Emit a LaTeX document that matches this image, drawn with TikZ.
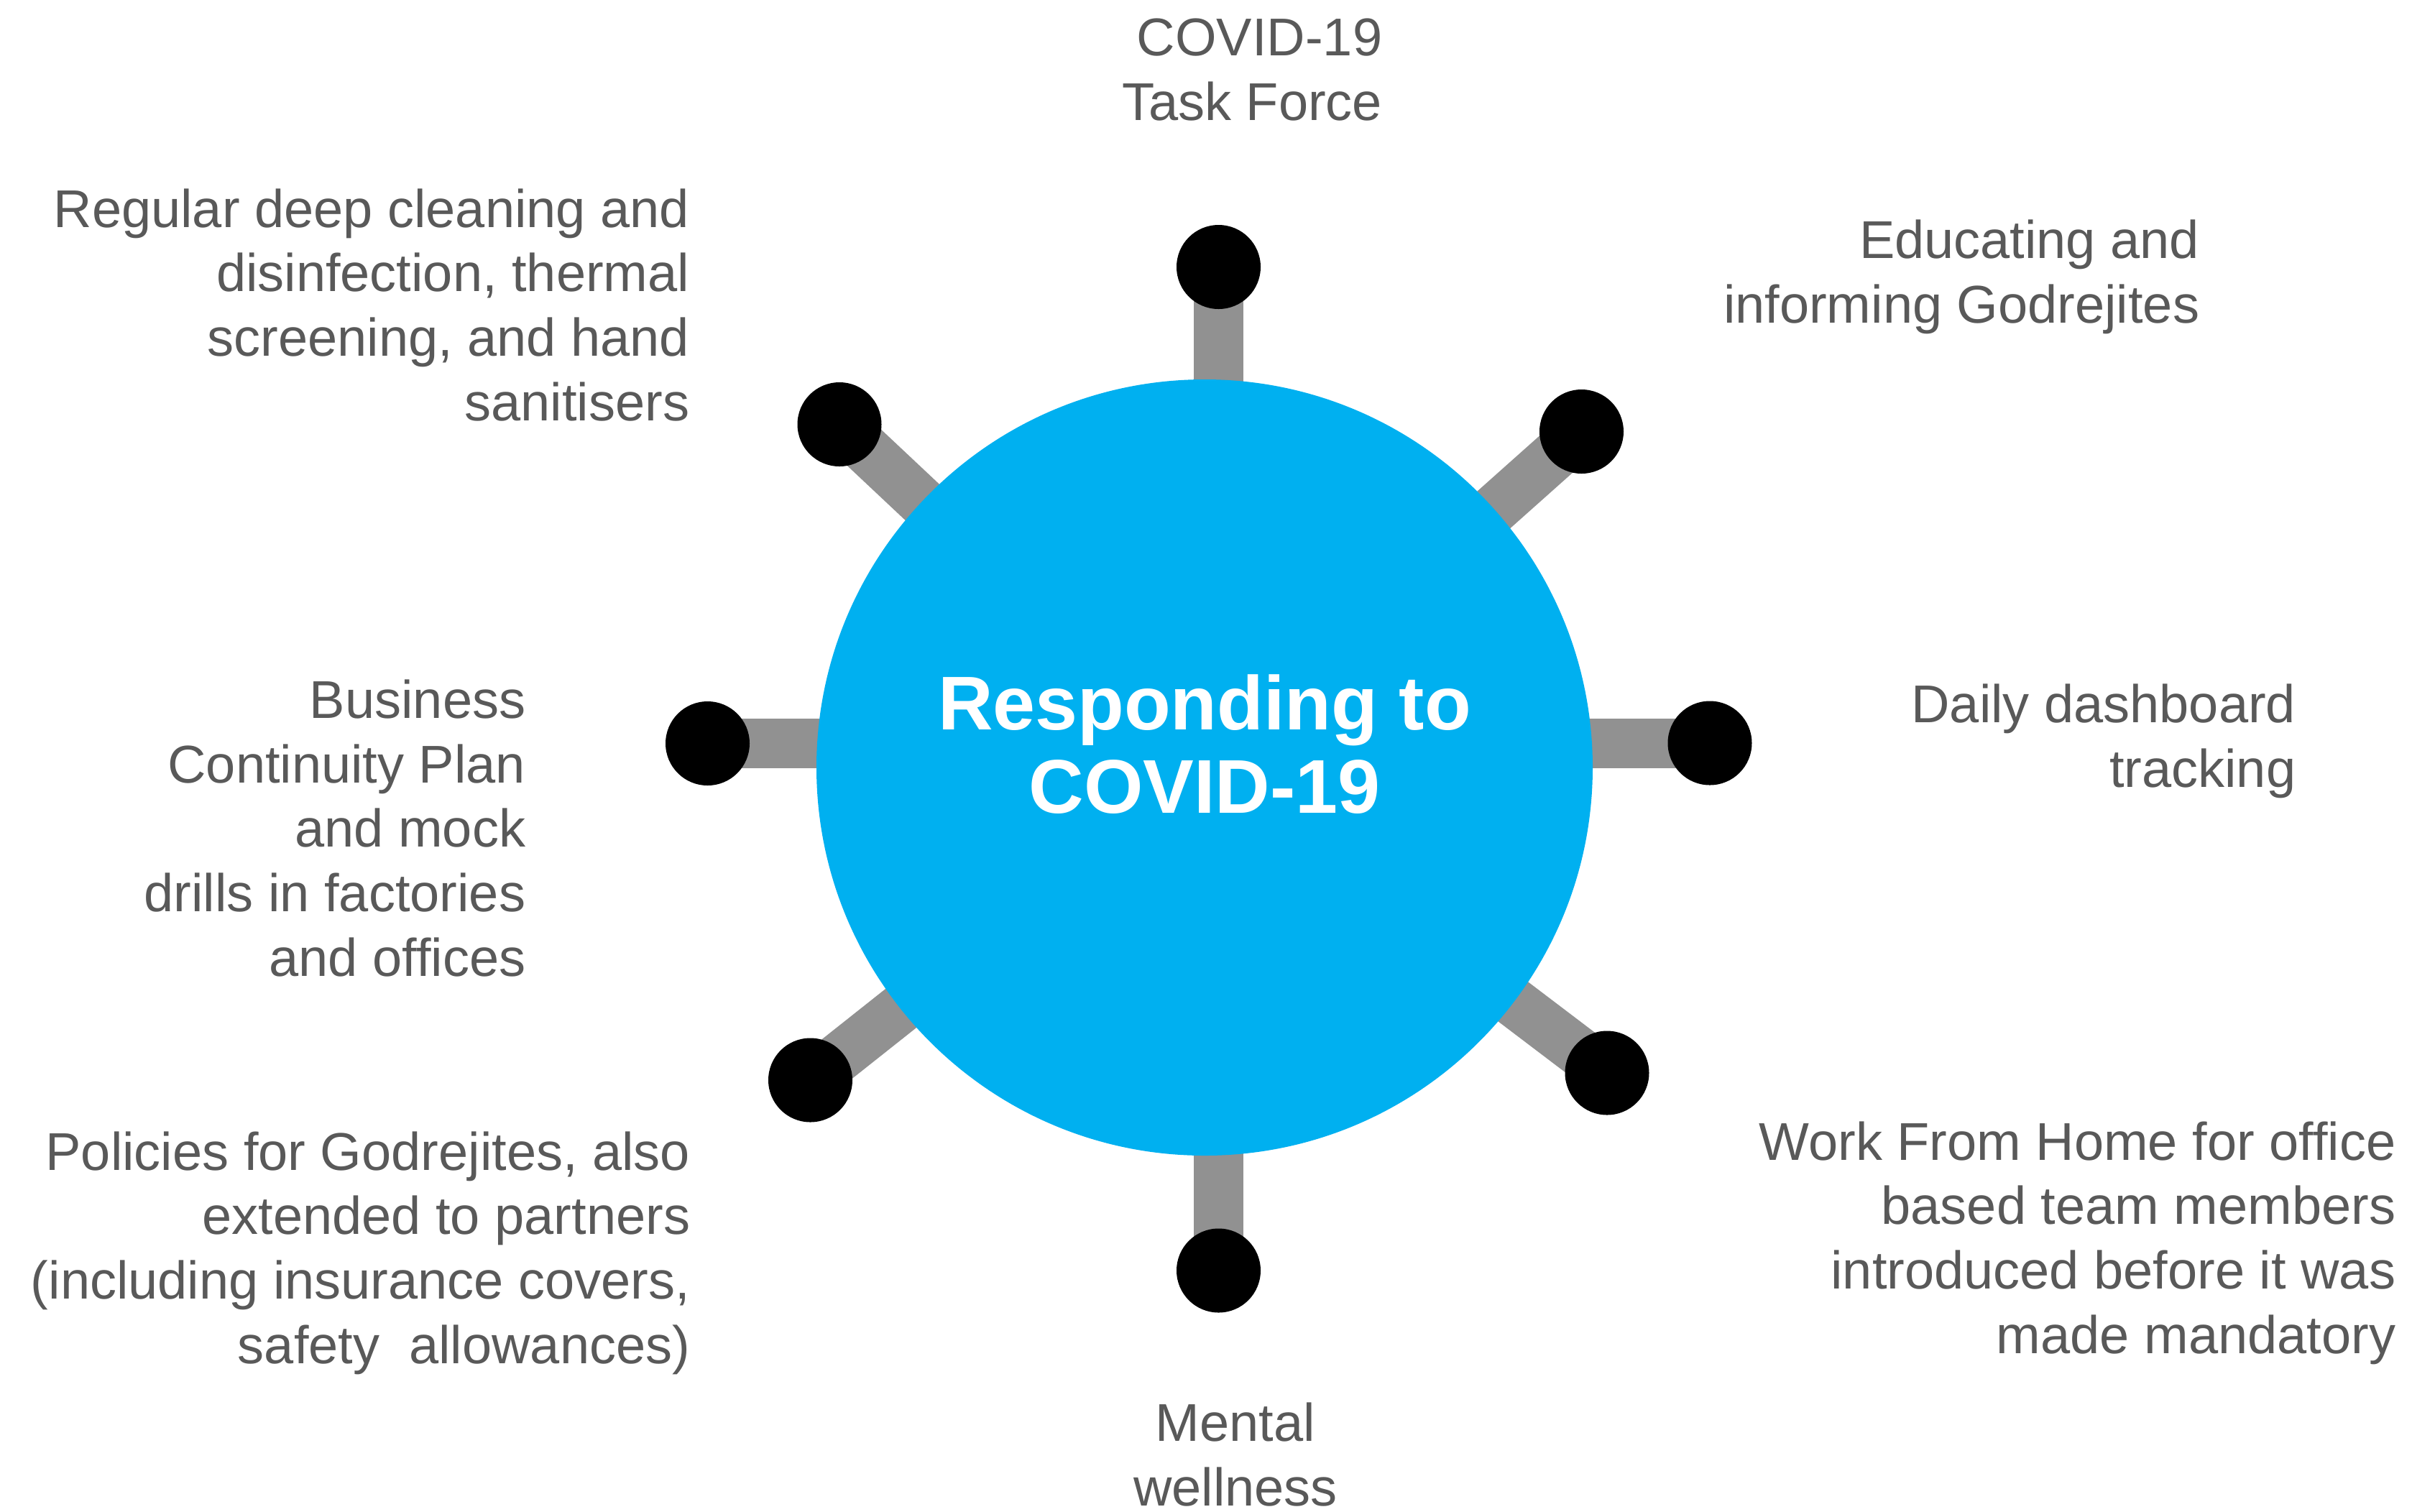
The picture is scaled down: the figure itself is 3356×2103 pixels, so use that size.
\documentclass[tikz,border=0pt]{standalone}
\usepackage{fontspec}
\setmainfont{Liberation Sans}
\usetikzlibrary{backgrounds}
\definecolor{hubblue}{RGB}{0,176,240}
\definecolor{spoke}{RGB}{145,145,145}
\definecolor{labelgrey}{RGB}{89,89,89}
% one drawing unit is 0.25pt; labels are anchored on the baseline of their last line
\tikzset{
  hub/.style={circle, fill=hubblue, minimum size=270pt, inner sep=0pt},
  knob/.style={circle, fill=black, minimum size=29.25pt, inner sep=0pt},
  bar/.style={draw=spoke, line width=17.25pt},
  lbl/.style={text=labelgrey, inner sep=0pt, font=\fontsize{18.5pt}{22.4pt}\selectfont},
  rlbl/.style={lbl, align=right, anchor=base east},
  clbl/.style={lbl, align=center, anchor=base}
}
\begin{document}
\begin{tikzpicture}[x=0.25pt, y=-0.25pt]
  \useasboundingbox (0,0) rectangle (3356,2103);

  % central disc
  \node[hub] (hub) at (1676,1068) {};
  \node[text=white, inner sep=0pt, font=\fontsize{26.5pt}{29pt}\selectfont\bfseries,
        align=center, anchor=base] (title) at (1676,1131) {Responding to\\COVID-19};

  % knobs at the ends of the spokes
  \node[knob] (kT)  at (1695.5,371.5) {};
  \node[knob] (kTR) at (2200.5,600.5) {};
  \node[knob] (kR)  at (2379,1034) {};
  \node[knob] (kBR) at (2236,1493) {};
  \node[knob] (kB)  at (1695.5,1768) {};
  \node[knob] (kBL) at (1127.5,1503) {};
  \node[knob] (kL)  at (984.5,1034.5) {};
  \node[knob] (kTL) at (1168,590.5) {};

  % white page and spokes behind the disc and knobs
  \begin{pgfonlayer}{background}
    \fill[white] (0,0) rectangle (3356,2103);
    \foreach \k in {kT,kB}
      \draw[bar] (\k.center) -- (\k.center |- hub.center);
    \foreach \k in {kL,kR}
      \draw[bar] (\k.center) -- (\k.center -| hub.center);
    \foreach \k in {kTR,kBR,kBL,kTL}
      \draw[bar] (hub.center) -- (\k.center);
  \end{pgfonlayer}

  % labels
  \node[rlbl] (tT)  at (1924,167) {COVID-19\\Task Force};
  \node[rlbl] (tTR) at (3061,449) {Educating and\\informing Godrejites};
  \node[rlbl] (tR)  at (3195,1095) {Daily dashboard\\tracking};
  \node[rlbl] (tBR) at (3334,1883) {Work From Home for office\\based team members\\introduced before it was\\made mandatory};
  \node[clbl] (tB)  at (1719,2095) {Mental\\wellness};
  \node[rlbl] (tBL) at (961,1897) {Policies for Godrejites, also\\extended to partners\\(including insurance covers,\\safety\ \ allowances)};
  \node[rlbl] (tL)  at (732,1358) {Business\\Continuity Plan\\and mock\\drills in factories\\and offices};
  \node[rlbl] (tTL) at (960,585) {Regular deep cleaning and\\disinfection, thermal\\screening, and hand\\sanitisers};
\end{tikzpicture}
\end{document}
